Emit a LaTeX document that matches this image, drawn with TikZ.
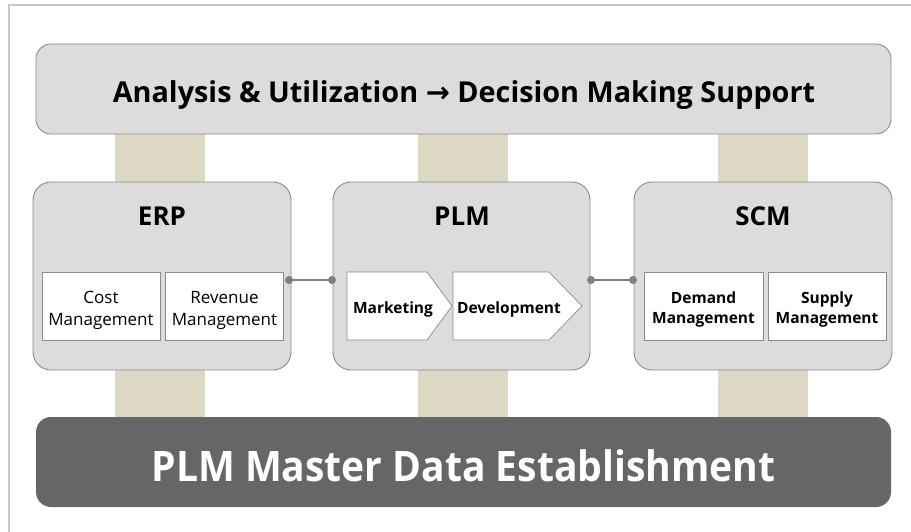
\documentclass[tikz,border=0pt]{standalone}
\usepackage{fontspec}
\setmainfont{Open Sans}
\newfontfamily\arrowfont{DejaVu Sans}
\definecolor{boxgray}{HTML}{DCDCDC}
\definecolor{boxline}{HTML}{8C8C8C}
\definecolor{pillar}{HTML}{DDD8C4}
\definecolor{darkbox}{HTML}{666666}
\definecolor{framegray}{HTML}{C8C8C8}
\definecolor{conn}{HTML}{808080}
\tikzset{
  panel/.style={draw=boxline, line width=0.9pt, fill=boxgray, rounded corners=18pt, inner sep=0pt},
  subbox/.style={draw=boxline, line width=0.7pt, fill=white, minimum width=118pt, minimum height=68pt, inner sep=0pt},
  subtext/.style={align=center, font=\fontsize{17}{22}\selectfont},
  boldtext/.style={align=center, font=\bfseries\fontsize{15.5}{20}\selectfont},
  title/.style={font=\bfseries\fontsize{26}{30}\selectfont},
  chev/.style={draw=boxline, line width=0.7pt, fill=white},
  chevtext/.style={font=\bfseries\fontsize{15.5}{19}\selectfont},
  dot/.style={circle, fill=conn, minimum size=8pt, inner sep=0pt},
  link/.style={draw=conn, line width=2pt},
  pil/.style={fill=pillar, draw=none}
}
\begin{document}
\begin{tikzpicture}[x=1pt, y=-1pt]
\useasboundingbox (0,0) rectangle (911,532);
\fill[white] (0,0) rectangle (911,532);
% frame
\draw[framegray, line width=2pt] (9,532) -- (9,5) -- (911,5);
% pillars
\foreach \x in {115,418,718} {
  \fill[pil] (\x,130) rectangle (\x+90,186);
  \fill[pil] (\x,366) rectangle (\x+90,420);
}
% top box
\node[panel, rounded corners=15pt, minimum width=855pt, minimum height=90pt] (top) at (463.5,89) {};
\node[font=\bfseries\fontsize{28.8}{32}\selectfont] (topT) at (464,95)
  {Analysis \& Utilization {\arrowfont →} Decision Making Support};
% bottom box
\node[fill=darkbox, rounded corners=15pt, minimum width=855pt, minimum height=90pt, inner sep=0pt] (bot) at (463.5,462) {};
\node[text=white, font=\bfseries\fontsize{42}{46}\selectfont] (botT) at (463.5,466)
  {\scalebox{0.93}[1]{PLM Master Data Establishment}};
% panels
\node[panel, minimum width=258pt, minimum height=188pt] (erp) at (162,276) {};
\node[panel, minimum width=257pt, minimum height=188pt] (plm) at (461.5,276) {};
\node[panel, minimum width=258pt, minimum height=188pt] (scm) at (763,276) {};
\node[title] (erpT) at (162,216) {ERP};
\node[title] (plmT) at (462,216) {PLM};
\node[title] (scmT) at (763,216) {SCM};
% ERP subs
\node[subbox] (cost) at (101,306) {};
\node[subbox] (rev) at (224.5,306) {};
\node[subtext] (costT) at (101,310) {Cost\\Management};
\node[subtext] (revT) at (224.5,310) {Revenue\\Management};
% SCM subs
\node[subbox, minimum width=119pt] (dem) at (703.5,306) {};
\node[subbox] (sup) at (827,306) {};
\node[boldtext] (demT) at (703.5,309) {Demand\\Management};
\node[boldtext] (supT) at (827,309) {Supply\\Management};
% PLM chevrons
\draw[chev] (347,272) -- (427,272) -- (452,306) -- (427,340) -- (347,340) -- cycle;
\draw[chev] (453,272) -- (549,272) -- (582,306) -- (549,340) -- (453,340) -- cycle;
\node[chevtext] (mkt) at (393,309) {Marketing};
\node[chevtext] (dev) at (509,309) {Development};
% connectors
\coordinate (c1) at (289,280);
\coordinate (c2) at (332,280);
\coordinate (c3) at (591,280);
\coordinate (c4) at (633,280);
\draw[link] (c1) -- (c2);
\draw[link] (c3) -- (c4);
\foreach \c in {c1,c2,c3,c4} \node[dot] at (\c) {};
\end{tikzpicture}
\end{document}
